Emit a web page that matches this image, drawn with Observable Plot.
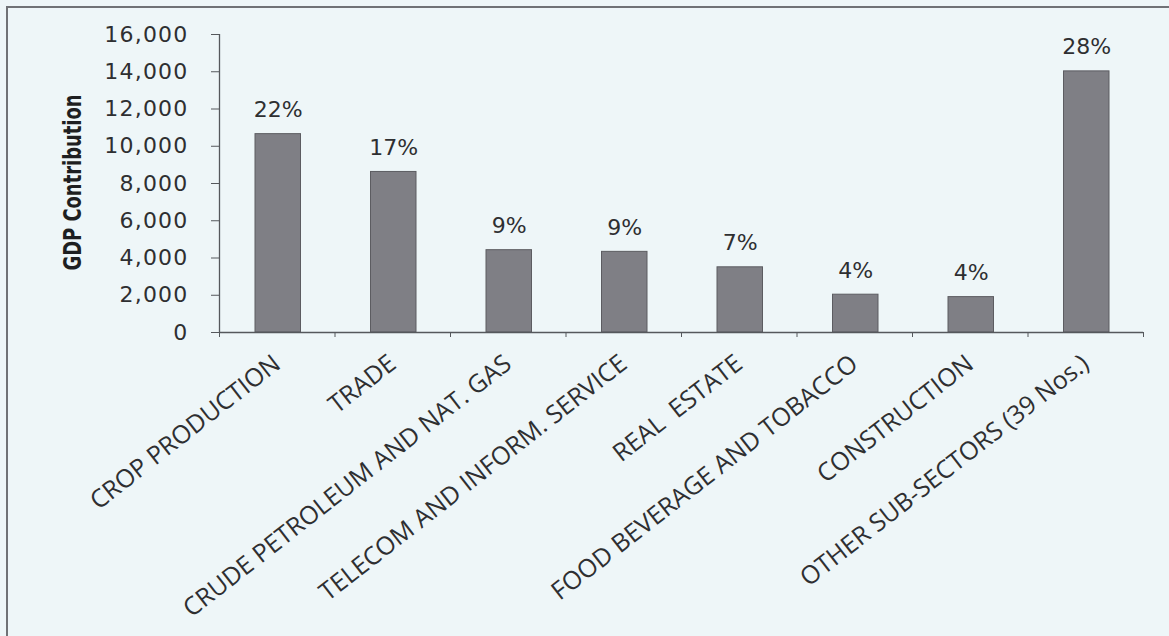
<!DOCTYPE html>
<html>
<head>
<meta charset="utf-8">
<script src="https://cdn.jsdelivr.net/npm/d3@7"></script>
<script src="https://cdn.jsdelivr.net/npm/@observablehq/plot@0.6"></script>
<style>
  html, body { margin: 0; padding: 0; background: #eef6f8; }
  #wrap { position: relative; width: 1169px; height: 636px; overflow: hidden; background: #eef6f8; }
  #frame { position: absolute; left: 6px; top: 6px; width: 1200px; height: 700px; border: 2px solid #707276; box-sizing: border-box; }
  #chart { position: absolute; left: 0; top: 0; }
  #chart text { white-space: pre; }
</style>
</head>
<body>
<div id="wrap"><div id="frame"></div><div id="chart"></div></div>
<script>
// GDP contribution by sub-sector
const sectors = [
  "CROP PRODUCTION",
  "TRADE",
  "CRUDE PETROLEUM AND NAT. GAS",
  "TELECOM AND INFORM. SERVICE",
  "REAL  ESTATE",
  "FOOD BEVERAGE AND TOBACCO",
  "CONSTRUCTION",
  "OTHER SUB-SECTORS (39 Nos.)"
];
const gdp = [10650, 8620, 4420, 4330, 3500, 2030, 1900, 14020];
const shares = ["22%", "17%", "9%", "9%", "7%", "4%", "4%", "28%"];
const yTicks = [0, 2000, 4000, 6000, 8000, 10000, 12000, 14000, 16000];
const yTitle = "GDP Contribution";

// one row per category; x runs over category slots 0..n
const rows = sectors.map((name, i) => ({i, name, gdp: gdp[i], share: shares[i]}));
const slotEdges = d3.range(sectors.length + 1);

const axisColor = "#55585c";
const textColor = "#2e2f31";

const chart = Plot.plot({
  width: 1169,
  height: 636,
  marginLeft: 219,
  marginRight: 26,
  marginTop: 34,
  marginBottom: 304,
  style: {background: "transparent", overflow: "visible"},
  x: {type: "linear", domain: [0, sectors.length], axis: null},
  y: {domain: [0, 16000], axis: null},
  marks: [
    // bars
    Plot.rectY(rows, {
      x1: "i",
      x2: d => d.i + 1,
      y: "gdp",
      insetLeft: 36,
      insetRight: 34,
      fill: "#7f7f85",
      stroke: "#5c5c61",
      strokeWidth: 1
    }),
    // value axis
    Plot.ruleX([0], {y1: 0, y2: 16000, stroke: axisColor, strokeWidth: 1.3}),
    Plot.axisY({
      ticks: yTicks,
      tickFormat: d3.format(","),
      tickSize: 8,
      tickPadding: 23,
      stroke: axisColor,
      fill: textColor,
      fontSize: 22,
      fontFamily: "DejaVu Sans, Verdana, sans-serif",
      label: null
    }),
    // category axis: baseline and slot boundary ticks
    Plot.ruleY([0], {x1: 0, x2: sectors.length, stroke: axisColor, strokeWidth: 1.3}),
    Plot.axisX({
      ticks: slotEdges,
      tickFormat: () => "",
      tickSize: 5,
      stroke: axisColor,
      label: null
    }),
    // rotated category labels
    Plot.text(rows, {
      x: d => d.i + 0.5,
      y: 0,
      text: "name",
      rotate: -38,
      textAnchor: "end",
      lineAnchor: "middle",
      dx: 0,
      dy: 28,
      fontSize: 25,
      fontFamily: "Open Sans, Lato, sans-serif",
      fill: textColor
    }),
    // share labels above the bars
    Plot.text(rows, {
      x: d => d.i + 0.5,
      y: "gdp",
      text: "share",
      textAnchor: "middle",
      lineAnchor: "bottom",
      dx: 1,
      dy: -17,
      fontSize: 22,
      fontFamily: "DejaVu Sans, Verdana, sans-serif",
      fill: textColor
    }),
    // value axis title
    Plot.text([yTitle], {
      frameAnchor: "left",
      rotate: -90,
      dx: -146,
      dy: -1,
      textAnchor: "middle",
      lineAnchor: "middle",
      fontSize: 24,
      fontWeight: "bold",
      fontFamily: "Liberation Sans Narrow, DejaVu Sans Condensed, Arial Narrow, sans-serif",
      fill: "#1e1f21"
    })
  ]
});

// slightly looser digit spacing for the numeric labels
d3.select(chart).selectAll('g[aria-label="y-axis tick label"] text').attr("letter-spacing", 1.2);
// a condensed, tall title: squeeze the glyphs into a fixed run length
d3.select(chart).selectAll("text")
  .filter(function() { return this.textContent === yTitle; })
  .attr("textLength", 176)
  .attr("lengthAdjust", "spacingAndGlyphs");

document.getElementById("chart").appendChild(chart);
</script>
</body>
</html>
